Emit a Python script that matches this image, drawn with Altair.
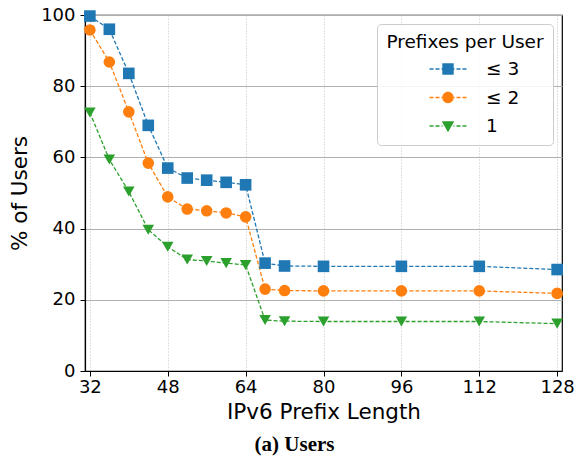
import altair as alt
import pandas as pd

prefix_len = [32, 36, 40, 44, 48, 52, 56, 60, 64, 68, 72, 80, 96, 112, 128]
series_names = ["≤ 3", "≤ 2", "1"]
le3 = [99.7, 96.0, 83.6, 69.0, 57.0, 54.2, 53.6, 53.0, 52.3, 30.3, 29.5, 29.4, 29.4, 29.4, 28.5]
le2 = [95.8, 86.8, 72.8, 58.4, 48.9, 45.5, 45.0, 44.4, 43.3, 23.0, 22.6, 22.5, 22.5, 22.5, 21.8]
one = [72.6, 59.4, 50.4, 39.7, 34.9, 31.3, 30.9, 30.3, 29.8, 14.3, 14.0, 13.9, 13.9, 13.9, 13.3]
x_ticks = [32, 48, 64, 80, 96, 112, 128]
y_ticks = [0, 20, 40, 60, 80, 100]
colors = ["#1f77b4", "#ff7f0e", "#2ca02c"]
shapes = ["square", "circle", "triangle-down"]

rows = []
for name, vals in zip(series_names, [le3, le2, one]):
    for x, v in zip(prefix_len, vals):
        rows.append({"len": x, "pct": v, "series": name})
df = pd.DataFrame(rows)

# legend symbol paths: dashed line with marker (unit = U px)
U = 9.5
HALF = 18.5 / U
def dash_path():
    segs = []
    t = 0.7 / U
    d = 4 / U
    g = 2 / U
    mk = 5.5 / U
    x = -HALF
    while x < -mk:
        x1 = min(x + d, -mk)
        segs.append(f"M{x:.3f},{-t:.3f}H{x1:.3f}V{t:.3f}H{x:.3f}Z")
        segs.append(f"M{-x1:.3f},{-t:.3f}H{-x:.3f}V{t:.3f}H{-x1:.3f}Z")
        x += d + g
    return "".join(segs)

dp = dash_path()
m = 5.7 / U
p_sq = dp + f"M{-m:.3f},{-m:.3f}H{m:.3f}V{m:.3f}H{-m:.3f}Z"
p_ci = dp + f"M{-m:.3f},0A{m:.3f},{m:.3f},0,1,0,{m:.3f},0A{m:.3f},{m:.3f},0,1,0,{-m:.3f},0Z"
p_tr = dp + f"M{-m*1.1:.3f},{-m*0.85:.3f}L{m*1.1:.3f},{-m*0.85:.3f}L0,{m*1.1:.3f}Z"
shape_signal = (f"datum.value === '{series_names[0]}' ? '{p_sq}' : "
                f"datum.value === '{series_names[1]}' ? '{p_ci}' : '{p_tr}'")

legend = alt.Legend(
    title="Prefixes per User", orient="top-right", offset=9,
    titleFontSize=18.5, titleFont="DejaVu Sans", titleFontWeight="normal",
    titleColor="black", titleAnchor="middle", titlePadding=8,
    labelFontSize=18.5, labelFont="DejaVu Sans", labelColor="black",
    symbolSize=(2 * U) ** 2, symbolStrokeWidth=0, symbolOffset=27.5,
    symbolType=alt.ExprRef(expr=shape_signal), symbolOpacity=1,
    labelOffset=28.5, rowPadding=9.5, padding=9, labelLimit=300,
    fillColor="rgba(255,255,255,0.85)", strokeColor="#cccccc", cornerRadius=4,
)

xenc = alt.X("len:Q", scale=alt.Scale(domain=[31, 129], nice=False, zero=False),
             axis=alt.Axis(values=x_ticks, title="IPv6 Prefix Length", grid=True,
                           gridDash=[1, 2], gridColor="#b0b0b0", gridWidth=0.8,
                           labelFontSize=18, titleFontSize=21.5, labelFont="DejaVu Sans",
                           titleFont="DejaVu Sans", titleFontWeight="normal",
                           labelColor="black", titleColor="black",
                           tickColor="black", tickSize=5, domainColor="black",
                           domainWidth=1.2, labelPadding=2, titlePadding=5,
                           labelFlush=False))
yenc = alt.Y("pct:Q", scale=alt.Scale(domain=[0, 100], nice=False),
             axis=alt.Axis(values=y_ticks, title="% of Users", grid=True,
                           gridColor="#b0b0b0", gridWidth=1,
                           labelFontSize=18, titleFontSize=21.5, labelFont="DejaVu Sans",
                           titleFont="DejaVu Sans", titleFontWeight="normal",
                           labelColor="black", titleColor="black",
                           tickColor="black", tickSize=5, domainColor="black",
                           domainWidth=1.2, labelPadding=5, titlePadding=9))

# lines coloured through the stroke channel (own scale, no legend)
lines = alt.Chart(df).mark_line(strokeDash=[4, 2], strokeWidth=1.3).encode(
    x=xenc, y=yenc,
    stroke=alt.Stroke("series:N",
                      scale=alt.Scale(domain=series_names[::-1], range=colors[::-1]),
                      legend=None),
)

cscale = alt.Scale(domain=series_names, range=colors)
point_layers = []
for name, shp in zip(series_names, shapes):
    point_layers.append(
        alt.Chart(df).transform_filter(alt.datum.series == name)
        .mark_point(filled=True, shape=shp, size=135, opacity=1)
        .encode(x=xenc, y=yenc,
                color=alt.Color("series:N", scale=cscale, legend=legend))
    )

chart = alt.layer(lines, *point_layers).properties(
    width=477, height=356,
    autosize=alt.AutoSizeParams(type="none"),
    padding={"left": 85, "top": 15, "right": 25, "bottom": 88},
    title=alt.Title("(a) Users", orient="bottom", anchor="middle", font="Liberation Serif",
                    fontSize=21, fontWeight="bold", color="black", offset=11, dx=-29),
).configure_view(stroke="black", strokeWidth=1.2)

chart.save("out.html", embed_options={"renderer": "svg", "actions": False})
